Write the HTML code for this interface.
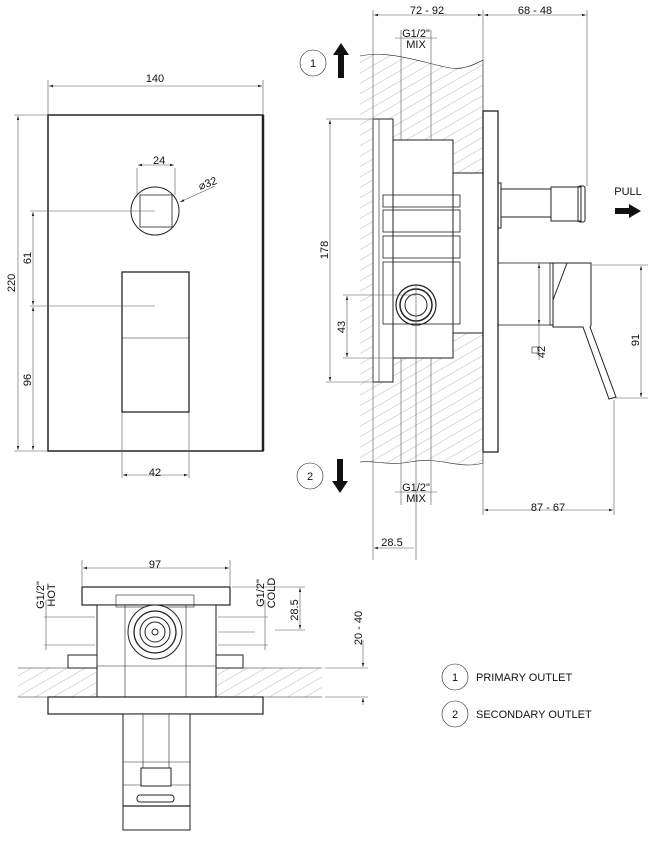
<!DOCTYPE html>
<html><head><meta charset="utf-8"><style>
html,body{margin:0;padding:0;background:#fff;width:660px;height:862px;overflow:hidden}
svg{display:block}
text{font-family:"Liberation Sans",sans-serif;font-size:11px;fill:#111}
</style></head><body>
<svg width="660" height="862" viewBox="0 0 660 862" xmlns="http://www.w3.org/2000/svg">
<defs>
<pattern id="h" width="9" height="9" patternUnits="userSpaceOnUse" patternTransform="rotate(60)">
<line x1="0" y1="0" x2="0" y2="9" stroke="#999" stroke-width="0.7"/></pattern>
<marker id="a" viewBox="0 0 10 10" refX="10" refY="5" markerWidth="7" markerHeight="7" orient="auto-start-reverse"><path d="M0,2 L10,5 L0,8z" fill="#222"/></marker>
</defs>
<g fill="none" stroke="#222" stroke-width="1">
<!-- FRONT VIEW -->
<rect x="48" y="115" width="215" height="336" stroke-width="1.5"/>
<line x1="263" y1="115" x2="263" y2="451" stroke-width="2.5"/>
<circle cx="155" cy="211" r="24"/>
<rect x="140" y="195" width="32" height="32" stroke-width="0.8"/>
<rect x="122" y="272" width="67" height="140" stroke-width="1.3"/>
<line x1="122" y1="338" x2="189" y2="338" stroke-width="0.6"/>
<g stroke-width="0.6" stroke="#555">
<line x1="48" y1="114" x2="48" y2="80"/><line x1="263" y1="114" x2="263" y2="80"/>
<line x1="49" y1="86" x2="262" y2="86" marker-start="url(#a)" marker-end="url(#a)"/>
<line x1="14" y1="115" x2="48" y2="115"/><line x1="14" y1="451" x2="48" y2="451"/>
<line x1="18" y1="116" x2="18" y2="450" marker-start="url(#a)" marker-end="url(#a)"/>
<line x1="30" y1="211" x2="155" y2="211"/><line x1="30" y1="306" x2="155" y2="306"/>
<line x1="33" y1="212" x2="33" y2="305" marker-start="url(#a)" marker-end="url(#a)"/>
<line x1="33" y1="307" x2="33" y2="450" marker-start="url(#a)" marker-end="url(#a)"/>
<line x1="122" y1="412" x2="122" y2="478"/><line x1="189" y1="412" x2="189" y2="478"/>
<line x1="123" y1="475" x2="188" y2="475" marker-start="url(#a)" marker-end="url(#a)"/>
<line x1="137" y1="168" x2="137" y2="195"/><line x1="175" y1="168" x2="175" y2="195"/>
<line x1="138" y1="165" x2="174" y2="165" marker-start="url(#a)" marker-end="url(#a)"/>
<line x1="215" y1="186" x2="180" y2="202" marker-end="url(#a)"/>
</g>
<!-- SIDE VIEW wall -->
<path d="M360,56 C390,50 420,62 450,68 C465,70 475,64 483,60 L483,463 C460,470 440,456 410,462 C390,466 372,460 360,462 Z" fill="url(#h)" stroke="none"/>
<path d="M360,56 C390,50 420,62 450,68 C465,70 475,64 483,60" stroke-width="0.6"/>
<path d="M360,462 C372,460 390,466 410,462 C440,456 460,470 483,463" stroke-width="0.6"/>
<line x1="483" y1="60" x2="483" y2="463" stroke-width="0.6"/>
<!-- box -->
<rect x="373" y="119" width="20" height="263" fill="#fff"/>
<rect x="393" y="140" width="60" height="218" fill="#fff"/>
<rect x="453" y="173" width="30" height="160" fill="#fff"/>
<rect x="379" y="119" width="14" height="263" stroke-width="0.6"/>
<rect x="383" y="195" width="77" height="12" stroke-width="0.8"/>
<rect x="383" y="210" width="77" height="22" stroke-width="0.8"/>
<rect x="383" y="236" width="77" height="22" stroke-width="0.8"/>
<rect x="383" y="262" width="77" height="62" stroke-width="0.8"/>
<circle cx="416" cy="305" r="20" stroke-width="1.2"/>
<circle cx="416" cy="305" r="16" stroke-width="1.5"/>
<circle cx="416" cy="305" r="11"/>
<rect x="483" y="111" width="15" height="341" fill="#fff" stroke-width="1.3"/>
<rect x="498" y="183" width="3" height="45"/>
<rect x="501" y="189" width="50" height="28"/>
<rect x="551" y="187" width="30" height="34"/>
<rect x="578" y="186" width="7" height="36" rx="2"/>
<rect x="498" y="263" width="52" height="62" stroke-width="0.8"/>
<path d="M550,263 L553,263 L553,325 L550,325"/>
<path d="M553,263 L591,263 L591,325 L590,327 L616,397 L609,399 L583,327 L553,327 Z" fill="#fff"/>
<path d="M553,263 L567,263 L553,300"/>
<g stroke-width="0.6" stroke="#555">
<line x1="373" y1="10" x2="373" y2="560"/><line x1="483" y1="10" x2="483" y2="110"/>
<line x1="587" y1="10" x2="587" y2="186"/>
<line x1="374" y1="15" x2="482" y2="15" marker-start="url(#a)" marker-end="url(#a)"/>
<line x1="484" y1="15" x2="586" y2="15" marker-start="url(#a)" marker-end="url(#a)"/>
<line x1="401" y1="30" x2="401" y2="140"/><line x1="431" y1="30" x2="431" y2="140"/>
<line x1="395" y1="38" x2="437" y2="38"/>
<line x1="401" y1="358" x2="401" y2="505"/><line x1="431" y1="358" x2="431" y2="505"/>
<line x1="395" y1="492" x2="437" y2="492"/>
<line x1="416" y1="285" x2="416" y2="560"/>
<line x1="326" y1="119" x2="373" y2="119"/><line x1="326" y1="382" x2="373" y2="382"/>
<line x1="330" y1="120" x2="330" y2="381" marker-start="url(#a)" marker-end="url(#a)"/>
<line x1="343" y1="295" x2="416" y2="295"/><line x1="343" y1="358" x2="393" y2="358"/>
<line x1="347" y1="296" x2="347" y2="357" marker-start="url(#a)" marker-end="url(#a)"/>
<line x1="592" y1="265" x2="648" y2="265"/><line x1="614" y1="398" x2="648" y2="398"/>
<line x1="641" y1="266" x2="641" y2="397" marker-start="url(#a)" marker-end="url(#a)"/>
<line x1="539" y1="263" x2="539" y2="360"/>
<line x1="539" y1="264" x2="539" y2="324" marker-start="url(#a)" marker-end="url(#a)"/>
<line x1="483" y1="452" x2="483" y2="515"/><line x1="614" y1="400" x2="614" y2="515"/>
<line x1="484" y1="510" x2="613" y2="510" marker-start="url(#a)" marker-end="url(#a)"/>
<line x1="374" y1="548" x2="414" y2="548" marker-start="url(#a)"/>
</g>
<rect x="532" y="347" width="6" height="6" stroke-width="0.6"/>
<circle cx="313" cy="63" r="13" stroke-width="0.6"/>
<circle cx="310" cy="476" r="13" stroke-width="0.6"/>
<!-- BOTTOM VIEW -->
<rect x="18" y="668" width="304" height="29" fill="url(#h)" stroke="none"/>
<line x1="18" y1="668" x2="322" y2="668" stroke-width="0.6"/><line x1="18" y1="697" x2="322" y2="697" stroke-width="0.6"/>
<rect x="82" y="587" width="148" height="18" fill="#fff" stroke-width="1.2"/>
<rect x="68" y="655" width="175" height="13" fill="#fff"/>
<rect x="97" y="605" width="119" height="93" fill="#fff"/>
<rect x="116" y="595" width="78" height="12" stroke-width="0.6"/>
<line x1="97" y1="666" x2="216" y2="666" stroke-width="0.6"/>
<line x1="125" y1="605" x2="125" y2="697" stroke-width="0.6"/><line x1="186" y1="605" x2="186" y2="697" stroke-width="0.6"/>
<circle cx="155" cy="632" r="27" fill="#fff"/>
<circle cx="155" cy="632" r="21" stroke-width="1.3"/>
<circle cx="155" cy="632" r="15"/><circle cx="155" cy="632" r="10"/>
<circle cx="155" cy="632" r="3"/>
<rect x="48" y="697" width="215" height="17" fill="#fff" stroke-width="1.2"/>
<rect x="123" y="714" width="67" height="116" fill="#fff"/>
<line x1="143" y1="714" x2="143" y2="770" stroke-width="0.6"/><line x1="169" y1="714" x2="169" y2="770" stroke-width="0.6"/>
<line x1="123" y1="762" x2="190" y2="762" stroke-width="0.6"/>
<line x1="123" y1="785" x2="190" y2="785" stroke-width="0.6"/>
<line x1="123" y1="806" x2="190" y2="806" stroke-width="1.3"/>
<rect x="141" y="768" width="30" height="18" fill="#fff"/>
<rect x="137" y="795" width="37" height="7" rx="3"/>
<g stroke-width="0.6" stroke="#555">
<line x1="82" y1="560" x2="82" y2="586"/><line x1="230" y1="560" x2="230" y2="586"/>
<line x1="83" y1="568" x2="229" y2="568" marker-start="url(#a)" marker-end="url(#a)"/>
<line x1="44" y1="617" x2="95" y2="617"/><line x1="44" y1="645" x2="95" y2="645"/>
<line x1="46" y1="600" x2="46" y2="650"/>
<line x1="218" y1="617" x2="268" y2="617"/><line x1="218" y1="632" x2="255" y2="632"/><line x1="218" y1="645" x2="268" y2="645"/>
<line x1="265" y1="600" x2="265" y2="650"/>
<line x1="232" y1="587" x2="305" y2="587"/><line x1="275" y1="630" x2="305" y2="630"/>
<line x1="300" y1="588" x2="300" y2="629" marker-start="url(#a)" marker-end="url(#a)"/>
<line x1="325" y1="668" x2="368" y2="668"/><line x1="325" y1="697" x2="368" y2="697"/>
<line x1="363" y1="640" x2="363" y2="667" marker-end="url(#a)"/>
<line x1="363" y1="705" x2="363" y2="698" marker-end="url(#a)"/>
</g>
<circle cx="455" cy="677" r="13" stroke-width="0.6"/>
<circle cx="455" cy="714" r="13" stroke-width="0.6"/>
</g>
<!-- arrows -->
<path d="M341,43 L349,55 L344,55 L344,78 L338,78 L338,55 L333,55 Z" fill="#111"/>
<path d="M340,493 L348,481 L343,481 L343,459 L337,459 L337,481 L332,481 Z" fill="#111"/>
<path d="M641,211 L629,204 L629,208 L615,208 L615,214 L629,214 L629,218 Z" fill="#111"/>
<!-- text -->
<text x="155" y="82" text-anchor="middle">140</text>
<text x="153" y="164">24</text>
<text x="200" y="190" transform="rotate(-20 200 190)">⌀32</text>
<text x="155" y="476" text-anchor="middle">42</text>
<text transform="translate(15,283) rotate(-90)" text-anchor="middle">220</text>
<text transform="translate(31,258) rotate(-90)" text-anchor="middle" font-size="10">61</text>
<text transform="translate(31,380) rotate(-90)" text-anchor="middle" font-size="10">96</text>
<text x="427" y="14" text-anchor="middle">72 - 92</text>
<text x="535" y="14" text-anchor="middle">68 - 48</text>
<text x="416" y="37" text-anchor="middle" font-size="10">G1/2"</text>
<text x="416" y="48" text-anchor="middle" font-size="10">MIX</text>
<text x="416" y="491" text-anchor="middle" font-size="10">G1/2"</text>
<text x="416" y="502" text-anchor="middle" font-size="10">MIX</text>
<text transform="translate(328,250) rotate(-90)" text-anchor="middle" font-size="10">178</text>
<text transform="translate(345,327) rotate(-90)" text-anchor="middle" font-size="10">43</text>
<text transform="translate(545,352) rotate(-90)" text-anchor="middle" font-size="10">42</text>
<text transform="translate(639,340) rotate(-90)" text-anchor="middle" font-size="10">91</text>
<text x="628" y="195" text-anchor="middle" font-size="10">PULL</text>
<text x="548" y="511" text-anchor="middle">87 - 67</text>
<text x="392" y="546" text-anchor="middle" font-size="10">28.5</text>
<text x="313" y="67" text-anchor="middle" font-size="10">1</text>
<text x="310" y="480" text-anchor="middle" font-size="10">2</text>
<text x="155" y="568" text-anchor="middle">97</text>
<text transform="translate(44,595) rotate(-90)" text-anchor="middle" font-size="10">G1/2"</text>
<text transform="translate(55,595) rotate(-90)" text-anchor="middle" font-size="10">HOT</text>
<text transform="translate(264,593) rotate(-90)" text-anchor="middle" font-size="10">G1/2"</text>
<text transform="translate(275,593) rotate(-90)" text-anchor="middle" font-size="10">COLD</text>
<text transform="translate(298,610) rotate(-90)" text-anchor="middle" font-size="10">28.5</text>
<text transform="translate(362,628) rotate(-90)" text-anchor="middle" font-size="10">20 - 40</text>
<text x="455" y="681" text-anchor="middle" font-size="10">1</text>
<text x="455" y="718" text-anchor="middle" font-size="10">2</text>
<text x="476" y="681" font-size="10">PRIMARY OUTLET</text>
<text x="476" y="718" font-size="10">SECONDARY OUTLET</text>
</svg>
</body></html>
